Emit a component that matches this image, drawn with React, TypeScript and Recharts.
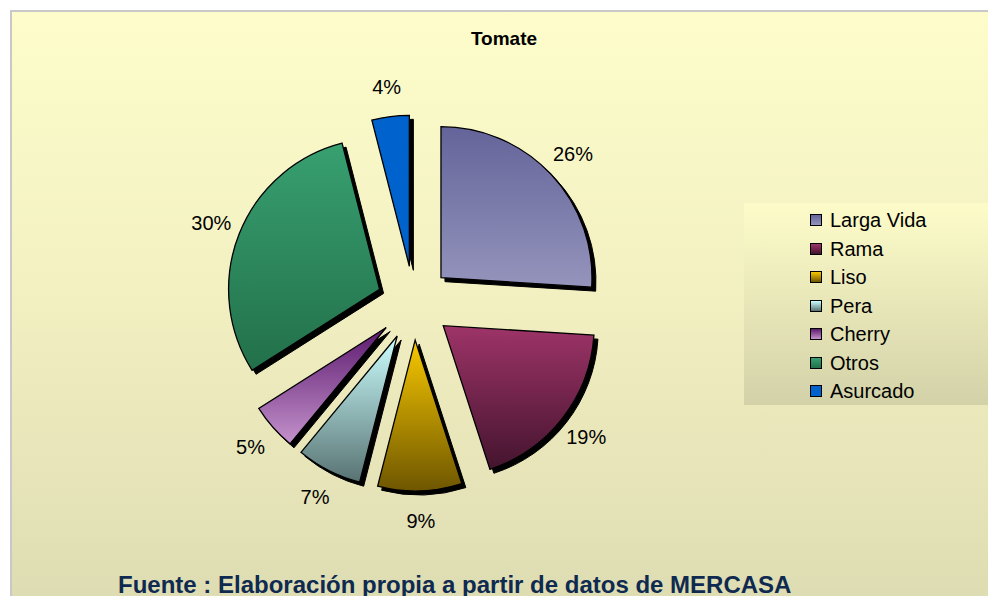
import React from 'react';
import { PieChart, Pie, Sector, Legend } from 'recharts';

const categories = ['Larga Vida', 'Rama', 'Liso', 'Pera', 'Cherry', 'Otros', 'Asurcado'];
const shares = [26, 19, 9, 7, 5, 30, 4];
const topColors = ['#64649a', '#9e3468', '#f8c800', '#ccffff', '#5c1a6e', '#38a070', '#0062cc'];
const bottomColors = ['#9494bc', '#44142e', '#6e5600', '#587272', '#c492cc', '#22704a', '#0062cc'];

const data = categories.map((name, i) => ({ name, value: shares[i] }));

const EXPLODE = 37;
const LABEL_GAP = 30;
const RAD = Math.PI / 180;
const FONT = '"Liberation Sans", Arial, sans-serif';

const renderSlice = (props: any) => {
  const { cx, cy, midAngle, outerRadius, startAngle, endAngle, index, percent } = props;
  const ux = Math.cos(-midAngle * RAD);
  const uy = Math.sin(-midAngle * RAD);
  const sx = cx + ux * EXPLODE;
  const sy = cy + uy * EXPLODE;
  const lr = outerRadius + EXPLODE + LABEL_GAP;
  return (
    <g key={`slice-${index}`}>
      <Sector cx={sx + 4} cy={sy + 4} innerRadius={0} outerRadius={outerRadius}
        startAngle={startAngle} endAngle={endAngle} fill="#000" stroke="#000" strokeWidth={1} />
      <Sector cx={sx} cy={sy} innerRadius={0} outerRadius={outerRadius}
        startAngle={startAngle} endAngle={endAngle} fill={`url(#grad${index})`} stroke="#000" strokeWidth={1.3} />
      <text x={cx + ux * lr} y={cy + uy * lr} textAnchor="middle" dominantBaseline="central"
        fontFamily={FONT} fontSize={20} fill="#000">{`${Math.round(percent * 100)}%`}</text>
    </g>
  );
};

const LegendBox = (props: any) => {
  const payload = props.payload || [];
  const ordered = categories
    .map((c) => payload.find((p: any) => p.value === c))
    .filter(Boolean);
  return (
    <div style={{ width: 244, height: 202, boxSizing: 'border-box',
      background: 'linear-gradient(#fdfcc9, #d3d1a8)', paddingTop: 3 }}>
      {ordered.map((p: any, i: number) => {
        const idx = categories.indexOf(p.value);
        return (
          <div key={i} style={{ display: 'flex', alignItems: 'center', height: 28.5, paddingLeft: 66 }}>
            <span style={{ display: 'inline-block', width: 10, height: 10, border: '1px solid #000',
              background: `linear-gradient(${topColors[idx]}, ${bottomColors[idx]})`, marginRight: 8 }} />
            <span style={{ fontFamily: FONT, fontSize: 20, color: '#000', lineHeight: '20px' }}>{p.value}</span>
          </div>
        );
      })}
    </div>
  );
};

export default function App() {
  return (
    <div style={{ position: 'absolute', left: 0, top: 0, width: 988, height: 596, background: '#fff', overflow: 'hidden' }}>
      <div style={{ position: 'absolute', left: 10, top: 10, width: 990, height: 600,
        borderTop: '2px solid #c8c8c8', borderLeft: '2px solid #c8c8c8',
        background: 'linear-gradient(#fdfcca 0%, #f3f1c2 45%, #dddbb1 100%)' }} />
      <div style={{ position: 'absolute', left: 404, top: 28, width: 200, textAlign: 'center',
        fontFamily: FONT, fontWeight: 'bold', fontSize: 19, color: '#000' }}>Tomate</div>
      <div style={{ position: 'absolute', left: 0, top: 571, width: 900, paddingLeft: 118, whiteSpace: 'nowrap',
        fontFamily: FONT, fontWeight: 'bold', fontSize: 24, color: '#0f2a50' }}>
        Fuente : Elaboración propia a partir de datos de MERCASA
      </div>
      <div style={{ position: 'absolute', left: 0, top: 0 }}>
        <PieChart width={988} height={596}>
          <defs>
            {categories.map((c, i) => (
              <linearGradient key={c} id={`grad${i}`} x1="0" y1="0" x2="0" y2="1">
                <stop offset="0%" stopColor={topColors[i]} />
                <stop offset="100%" stopColor={bottomColors[i]} />
              </linearGradient>
            ))}
          </defs>
          <Pie data={data} dataKey="value" nameKey="name" cx={409} cy={298} outerRadius={151}
            startAngle={90} endAngle={-270} fill="none" stroke="none" labelLine={false}
            label={renderSlice} isAnimationActive={false} />
          <Legend layout="vertical" align="right" verticalAlign="top" content={<LegendBox />}
            wrapperStyle={{ position: 'absolute', left: 744, top: 203, width: 244, height: 202 }} />
        </PieChart>
      </div>
    </div>
  );
}
